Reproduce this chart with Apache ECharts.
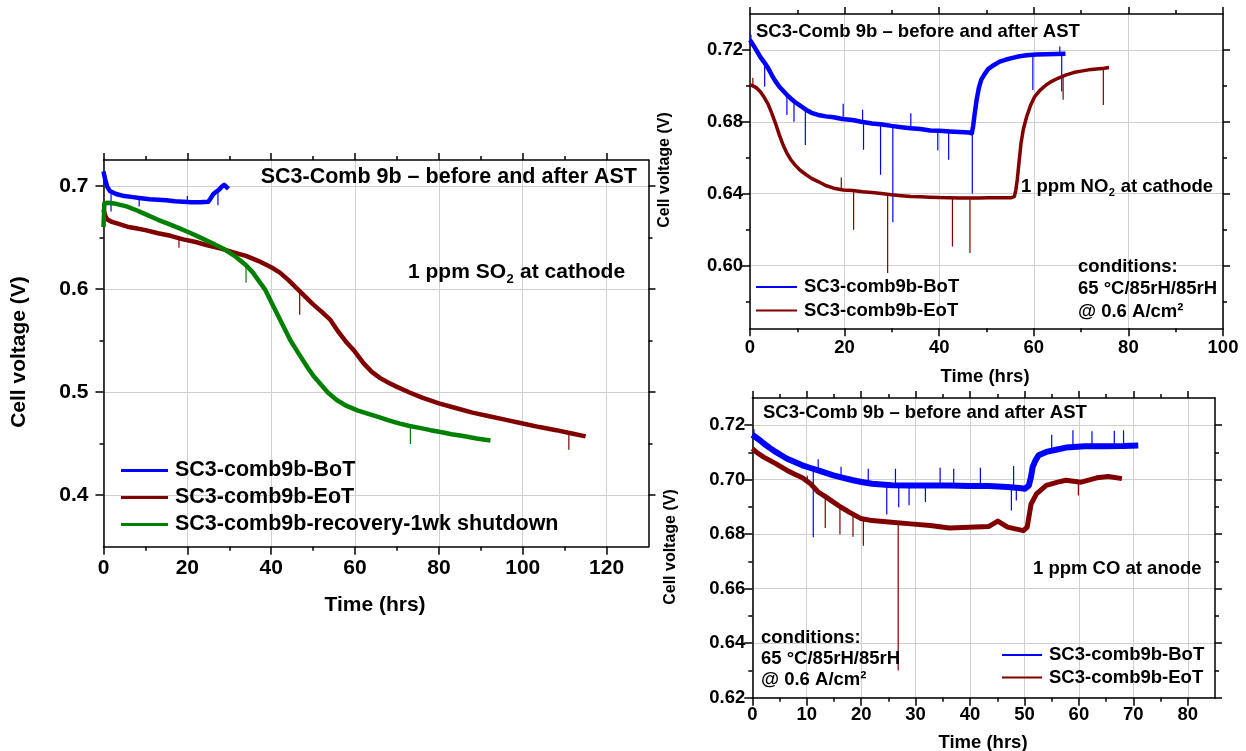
<!DOCTYPE html>
<html><head><meta charset="utf-8">
<script src="https://cdn.jsdelivr.net/npm/echarts@6/dist/echarts.min.js"></script>
<style>html,body{margin:0;padding:0;background:#fff}#c{width:1246px;height:751px}</style>
</head><body><div id="c"></div>
<script>
// ================= DATA =================
const nameBoT = 'SC3-comb9b-BoT';
const nameEoT = 'SC3-comb9b-EoT';
const nameRec = 'SC3-comb9b-recovery-1wk shutdown';
const panelTitle = 'SC3-Comb 9b \u2013 before and after AST';

// ---- Panel A : 1 ppm SO2 at cathode ----
const so2XTicks = [0, 20, 40, 60, 80, 100, 120];
const so2XMinorTicks = [10, 30, 50, 70, 90, 110];
const so2YTicks = [0.4, 0.5, 0.6, 0.7];
const so2YMinorTicks = [0.45, 0.55, 0.65];
const so2BoT = [[0,0.714],[0.4,0.706],[0.9,0.699],[1.5,0.695],[3,0.692],[5,0.690],[7,0.689],[9,0.688],[11,0.687],[13,0.6865],[15,0.686],[17,0.685],[19,0.6845],[21,0.684],[23,0.684],[25,0.6845],[25.6,0.688],[26.2,0.692],[26.8,0.694],[27.5,0.696],[28.2,0.699],[28.8,0.701],[29.3,0.699],[29.8,0.697]];
const so2BoTSpikes = [[1.8,0.692,0.675],[8.5,0.688,0.680],[20,0.684,0.690],[27.3,0.695,0.681]];
const so2EoT = [[0,0.677],[0.5,0.670],[1,0.667],[2,0.665],[4,0.6625],[6,0.660],[8,0.6585],[10,0.657],[13,0.654],[16,0.6515],[19,0.648],[22,0.6455],[25,0.642],[28,0.639],[31,0.6355],[34,0.632],[37,0.627],[40,0.621],[42,0.616],[44,0.609],[46,0.601],[48,0.593],[50,0.585],[52,0.578],[54,0.5705],[56,0.5585],[58,0.548],[60,0.539],[62,0.528],[64,0.5195],[66,0.5135],[68,0.509],[70,0.505],[73,0.4995],[76,0.4945],[80,0.489],[84,0.4845],[88,0.480],[92,0.4765],[96,0.473],[100,0.4695],[104,0.466],[108,0.463],[112,0.4595],[115,0.457]];
const so2EoTSpikes = [[18,0.648,0.640],[46.8,0.596,0.575],[111,0.460,0.444]];
const so2Rec = [[0,0.660],[0.2,0.683],[1,0.6835],[3,0.6825],[5.5,0.680],[8,0.676],[10.5,0.6715],[13,0.667],[15.5,0.663],[18,0.659],[20.6,0.6545],[23,0.650],[25.6,0.645],[28.6,0.639],[31.6,0.631],[34,0.623],[35.6,0.616],[37,0.608],[38.6,0.599],[40.6,0.5825],[42.6,0.5663],[44.6,0.550],[46.6,0.537],[48.6,0.5243],[50,0.516],[51.7,0.508],[53.5,0.4995],[55.7,0.492],[58,0.4865],[60.7,0.482],[63,0.479],[65.7,0.4757],[68,0.4725],[70.7,0.4693],[73,0.467],[75.7,0.465],[78,0.463],[80.7,0.461],[83,0.459],[85.8,0.4573],[89,0.455],[92.3,0.453]];
const so2RecSpikes = [[34,0.625,0.606],[73.2,0.467,0.4495]];

// ---- Panel B : 1 ppm NO2 at cathode ----
const no2XTicks = [0, 20, 40, 60, 80, 100];
const no2XMinorTicks = [10, 30, 50, 70, 90];
const no2YTicks = [0.60, 0.64, 0.68, 0.72];
const no2YMinorTicks = [0.58, 0.62, 0.66, 0.70];
const no2BoT = [[0,0.7255],[0.5,0.7235],[1.3,0.720],[2.2,0.716],[2.9,0.7135],[3.8,0.710],[4.6,0.706],[5.4,0.7025],[6.2,0.6995],[7.1,0.697],[7.8,0.695],[8.6,0.693],[9.5,0.691],[10.6,0.689],[11.9,0.6866],[13,0.685],[14.4,0.6838],[16,0.683],[17.7,0.6825],[19.5,0.6815],[21.7,0.681],[23.5,0.680],[25.8,0.679],[28,0.6785],[29.9,0.6777],[32,0.677],[34,0.6764],[36,0.676],[38.1,0.6751],[40,0.675],[42.2,0.6746],[44.3,0.6743],[46.3,0.674],[46.9,0.6736],[47.2,0.678],[47.5,0.6845],[47.9,0.692],[48.4,0.699],[48.9,0.7035],[49.6,0.7065],[50.4,0.7095],[51.5,0.7115],[52.8,0.7135],[54,0.7145],[55.3,0.7154],[57,0.7165],[58.5,0.717],[60.5,0.7175],[62.6,0.7176],[64.6,0.7177],[66.7,0.7178]];
const no2BoTSpikes = [[0.2,0.725,0.7285],[3.1,0.713,0.6995],[7.8,0.696,0.6838],[9.3,0.692,0.680],[11.7,0.687,0.667],[19.7,0.682,0.690],[23.8,0.680,0.6867],[24,0.680,0.6644],[27.6,0.679,0.6505],[30.2,0.678,0.624],[34,0.6764,0.6848],[39.7,0.675,0.664],[42,0.675,0.6588],[47,0.674,0.640],[59.8,0.717,0.6977],[65.5,0.7178,0.7219],[65.9,0.718,0.6968]];
const no2EoT = [[0,0.7005],[0.6,0.700],[1.3,0.699],[2.1,0.697],[2.9,0.694],[3.8,0.690],[4.6,0.6848],[5.4,0.679],[6.2,0.6727],[7,0.667],[7.8,0.6625],[8.6,0.659],[9.5,0.656],[10.6,0.653],[11.9,0.6505],[13,0.6485],[14.4,0.6467],[16,0.6445],[17.7,0.643],[19.7,0.642],[21.7,0.6417],[23.8,0.641],[25.8,0.6406],[27.8,0.640],[29.9,0.6393],[32,0.6388],[34,0.6384],[36,0.6382],[38.1,0.638],[40,0.6378],[42.2,0.6377],[44.2,0.6376],[46.3,0.6375],[48.3,0.6376],[50.4,0.6377],[52.8,0.6377],[55.3,0.6377],[55.9,0.6384],[56.2,0.642],[56.5,0.6477],[56.9,0.658],[57.3,0.6681],[57.8,0.676],[58.5,0.6829],[59.3,0.689],[60.2,0.694],[61.3,0.6975],[62.6,0.7005],[63.8,0.7025],[65.1,0.7042],[66.7,0.706],[68.4,0.7074],[70,0.7082],[71.6,0.7089],[73.3,0.7094],[74.9,0.7098],[75.9,0.7102]];
const no2EoTSpikes = [[0.6,0.700,0.7045],[19.3,0.642,0.649],[21.9,0.6417,0.6199],[29.1,0.6395,0.5958],[42.8,0.6377,0.6106],[46.5,0.6375,0.6069],[66.2,0.706,0.6922],[74.7,0.7098,0.6894]];

// ---- Panel C : 1 ppm CO at anode ----
const coXTicks = [0, 10, 20, 30, 40, 50, 60, 70, 80];
const coXMinorTicks = [5, 15, 25, 35, 45, 55, 65, 75];
const coYTicks = [0.62, 0.64, 0.66, 0.68, 0.70, 0.72];
const coYMinorTicks = [0.63, 0.65, 0.67, 0.69, 0.71];
const coBoT = [[0,0.7165],[0.7,0.7155],[1.4,0.7145],[2.1,0.7133],[3.2,0.7117],[4.3,0.7102],[5.3,0.709],[6.4,0.7077],[7.8,0.7065],[9.2,0.7053],[10.7,0.7043],[12.1,0.7034],[13.5,0.7025],[14.9,0.7016],[16.7,0.7007],[18.5,0.6998],[20.3,0.6991],[22,0.6985],[25.6,0.698],[29.1,0.6979],[32.7,0.6979],[36.2,0.6979],[39.8,0.6977],[43.4,0.6977],[46.9,0.6973],[49,0.697],[50.1,0.6967],[50.8,0.6979],[51.2,0.701],[51.5,0.7047],[52,0.707],[52.6,0.709],[54,0.7102],[55.8,0.711],[57.6,0.7118],[61.1,0.7123],[64.7,0.7123],[68.2,0.7124],[70.9,0.7126]];
const coBoTSpikes = [[0.3,0.716,0.7185],[11.2,0.7035,0.6789],[12.1,0.7034,0.7075],[16.3,0.701,0.7048],[21.3,0.6988,0.7040],[24.7,0.698,0.6872],[26.3,0.698,0.7040],[26.9,0.698,0.6899],[28.8,0.698,0.6906],[31.8,0.698,0.6918],[34.5,0.698,0.7044],[37,0.698,0.7040],[41.9,0.6977,0.7044],[47.6,0.697,0.6887],[48,0.697,0.7050],[48.5,0.697,0.6924],[55,0.711,0.7165],[58.9,0.712,0.7182],[62.4,0.712,0.7178],[66.5,0.712,0.7180],[68.2,0.7124,0.7182]];
const coEoT = [[0,0.7114],[0.7,0.7102],[2.1,0.7083],[3.2,0.7071],[4.3,0.7059],[5.3,0.7047],[6.4,0.7034],[7.8,0.702],[9.2,0.7007],[10.7,0.6985],[12.1,0.6955],[13.5,0.6937],[14.9,0.6918],[16.3,0.6899],[17.8,0.6881],[19.9,0.6858],[22,0.685],[25.6,0.6844],[29.1,0.6838],[32.7,0.6832],[36.2,0.6823],[39.8,0.6826],[43.4,0.6828],[45.1,0.6848],[46.9,0.6826],[49.8,0.6813],[50.5,0.6826],[51.2,0.691],[52.2,0.6948],[54,0.6979],[56.1,0.6991],[57.6,0.6998],[60.4,0.6991],[63.3,0.7007],[65.4,0.7012],[67.9,0.7004]];
const coEoTSpikes = [[10.1,0.699,0.7015],[13.4,0.694,0.6823],[16.1,0.690,0.680],[18.5,0.6875,0.6791],[20.4,0.686,0.6758],[26.8,0.6843,0.630],[59.9,0.699,0.6942]];

// ================= STYLE / LAYOUT =================
const FONT = '"Liberation Sans", Arial, Helvetica, sans-serif';
const BLUE = '#0000ff', RED = '#800000', GREEN = '#008000';
const GRIDC = '#d0d0d0';

const panels = [
  { grid:{left:103.5, top:160, width:545, height:386.7}, xr:[0,130], yr:[0.35,0.725],
    xMaj:so2XTicks, xMin:so2XMinorTicks, yMaj:so2YTicks, yMin:so2YMinorTicks, yDec:1,
    tickFs:21, xMargin:11, yMargin:15 },
  { grid:{left:750, top:14, width:473, height:314.3}, xr:[0,100], yr:[0.565,0.74],
    xMaj:no2XTicks, xMin:no2XMinorTicks, yMaj:no2YTicks, yMin:no2YMinorTicks, yDec:2,
    tickFs:18.5, xMargin:10, yMargin:7 },
  { grid:{left:752.3, top:398, width:462.7, height:299.7}, xr:[0,85], yr:[0.62,0.73],
    xMaj:coXTicks, xMin:coXMinorTicks, yMaj:coYTicks, yMin:coYMinorTicks, yDec:2,
    tickFs:18.5, xMargin:8, yMargin:7 }
];

function axisPair(dim, g, p) {
  const isX = dim === 'x';
  const r = isX ? p.xr : p.yr, maj = isX ? p.xMaj : p.yMaj, mnr = isX ? p.xMin : p.yMin;
  const pos1 = isX ? 'bottom' : 'left', pos2 = isX ? 'top' : 'right';
  const tickLS = {color:'#000', width:1.5};
  const base = {type:'value', gridIndex:g, min:r[0], max:r[1], scale:true, silent:true};
  const fmt = isX ? (v => String(Math.round(v))) : (v => v.toFixed(p.yDec));
  return [
    Object.assign({}, base, {position:pos1,
      axisLine:{show:true, onZero:false, lineStyle:{color:'#000', width:1.5}},
      axisTick:{show:true, inside:false, length:8, lineStyle:tickLS, customValues:maj},
      axisLabel:{show:true, customValues:maj, margin:isX ? p.xMargin : p.yMargin, formatter:fmt,
        fontFamily:FONT, fontWeight:'bold', fontSize:p.tickFs, color:'#000'},
      splitLine:{show:true, lineStyle:{color:GRIDC, width:1}}}),
    Object.assign({}, base, {position:pos1,
      axisLine:{show:false, onZero:false},
      axisTick:{show:true, inside:false, length:4, lineStyle:tickLS, customValues:mnr},
      axisLabel:{show:false}, splitLine:{show:false}}),
    Object.assign({}, base, {position:pos2,
      axisLine:{show:true, onZero:false, lineStyle:{color:'#000', width:1.5}},
      axisTick:{show:true, inside:false, length:7, lineStyle:tickLS, customValues:maj},
      axisLabel:{show:false}, splitLine:{show:false}}),
    Object.assign({}, base, {position:pos2,
      axisLine:{show:false, onZero:false},
      axisTick:{show:true, inside:false, length:4, lineStyle:tickLS, customValues:mnr},
      axisLabel:{show:false}, splitLine:{show:false}})
  ];
}

const xAxes = [], yAxes = [], grids = [];
panels.forEach((p, g) => {
  grids.push(Object.assign({containLabel:false, show:false}, p.grid));
  xAxes.push(...axisPair('x', g, p));
  yAxes.push(...axisPair('y', g, p));
});

function line(g, name, data, color, w) {
  return {type:'line', name, xAxisIndex:4*g, yAxisIndex:4*g, data, symbol:'none', showSymbol:false,
    lineStyle:{color, width:w, join:'round'}, itemStyle:{color}, color, silent:true, z:3};
}
function spikes(g, list, color) {
  const d = [];
  list.forEach(s => { d.push([s[0], s[1]], [s[0], s[2]], [s[0], '-']); });
  return {type:'line', xAxisIndex:4*g, yAxisIndex:4*g, data:d, symbol:'none', showSymbol:false,
    connectNulls:false, lineStyle:{color, width:1.2}, itemStyle:{color}, color, silent:true, z:3};
}

const series = [
  line(0, nameBoT, so2BoT, BLUE, 4.5), spikes(0, so2BoTSpikes, BLUE),
  line(0, nameEoT, so2EoT, RED, 4.5), spikes(0, so2EoTSpikes, RED),
  line(0, nameRec, so2Rec, GREEN, 4.5), spikes(0, so2RecSpikes, GREEN),
  line(1, nameBoT, no2BoT, BLUE, 4.5), spikes(1, no2BoTSpikes, BLUE),
  line(1, nameEoT, no2EoT, RED, 3.5), spikes(1, no2EoTSpikes, RED),
  line(2, nameBoT, coBoT, BLUE, 6), spikes(2, coBoTSpikes, BLUE),
  line(2, nameEoT, coEoT, RED, 5), spikes(2, coEoTSpikes, RED)
];

function legend(left, top, names, fs, iw, ih, gap) {
  return {show:true, orient:'vertical', left, top, padding:0, itemGap:gap, itemWidth:iw, itemHeight:ih,
    icon:'rect', selectedMode:false, data:names,
    textStyle:{fontFamily:FONT, fontWeight:'bold', fontSize:fs, color:'#000', padding:[0,0,0,2]}};
}

// ---------- text helpers ----------
const mctx = document.createElement('canvas').getContext('2d');
function measure(t, size) { mctx.font = 'bold ' + size + 'px ' + FONT; return mctx.measureText(t).width; }
function txt(x, y, text, size, align, rot) {
  return {type:'text', x, y, rotation:rot || 0, silent:true, z:10,
    style:{text, font:'bold ' + size + 'px ' + FONT, fill:'#000', align:align || 'left', verticalAlign:'middle'}};
}
function subText(x, y, a, sub, b, size) {
  const ss = Math.round(size * 0.6);
  const w1 = measure(a, size), w2 = measure(sub, ss);
  return [txt(x, y, a, size), txt(x + w1 + 0.5, y + size * 0.33, sub, ss), txt(x + w1 + w2 + 1, y, b, size)];
}

const graphics = [
  // Panel A
  txt(637, 177, panelTitle, 21.5, 'right'),
  ...subText(408, 272, '1 ppm SO', '2', ' at cathode', 21),
  txt(19, 352, 'Cell voltage (V)', 21, 'center', Math.PI / 2),
  txt(375, 605, 'Time (hrs)', 21, 'center'),
  // Panel B
  txt(756, 31.5, panelTitle, 18.5),
  ...subText(1021, 187, '1 ppm NO', '2', ' at cathode', 18.5),
  txt(1078, 266.5, 'conditions:', 18.5),
  txt(1078, 289, '65 \u00B0C/85rH/85rH', 18.5),
  txt(1078, 311.5, '@ 0.6 A/cm\u00B2', 18.5),
  txt(665, 170, 'Cell voltage (V)', 16, 'center', Math.PI / 2),
  txt(985, 377, 'Time (hrs)', 18.5, 'center'),
  // Panel C
  txt(763, 412.5, panelTitle, 18.5),
  txt(1033, 569, '1 ppm CO at anode', 18.5),
  txt(761, 638, 'conditions:', 18.5),
  txt(761, 659, '65 \u00B0C/85rH/85rH', 18.5),
  txt(761, 680, '@ 0.6 A/cm\u00B2', 18.5),
  txt(671, 547, 'Cell voltage (V)', 16, 'center', Math.PI / 2),
  txt(983, 742.5, 'Time (hrs)', 18.5, 'center')
];

const chart = echarts.init(document.getElementById('c'), null, {renderer:'canvas', width:1246, height:751});
chart.setOption({
  backgroundColor:'#ffffff',
  animation:false,
  grid:grids,
  xAxis:xAxes,
  yAxis:yAxes,
  legend:[
    legend(121, 459.5, [nameBoT, nameEoT, nameRec], 21.5, 47, 3, 5),
    legend(756, 277.5, [nameBoT, nameEoT], 18.5, 41, 2, 4.5),
    legend(1002, 645.5, [nameBoT, nameEoT], 18.5, 40, 2, 3.5)
  ],
  series,
  graphic:graphics
});
</script>
</body></html>
